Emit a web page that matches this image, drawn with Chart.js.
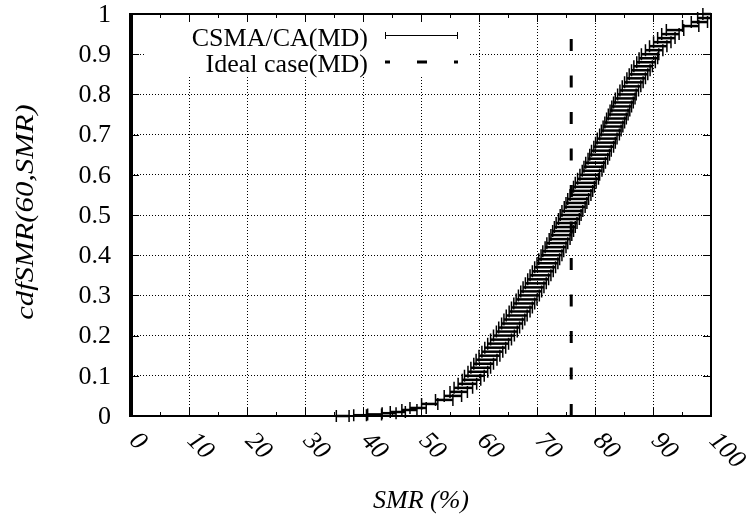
<!DOCTYPE html>
<html>
<head>
<meta charset="utf-8">
<script src="https://cdn.jsdelivr.net/npm/chart.js@4.4.1/dist/chart.umd.min.js"></script>
<style>
  html, body { margin: 0; padding: 0; background: #fff; }
  #wrap { width: 748px; height: 517px; }
</style>
</head>
<body>
<div id="wrap"><canvas id="chart"></canvas></div>
<script>
// series: CSMA/CA(MD), cdf level vs SMR (%), with horizontal error half-widths
const cdfLevels = [
  0.000, 0.002, 0.004, 0.007, 0.010, 0.015, 0.020, 0.030, 0.040, 0.050,
  0.06, 0.07, 0.08, 0.09,
  0.10, 0.11, 0.12, 0.13, 0.14, 0.15, 0.16, 0.17, 0.18, 0.19,
  0.20, 0.21, 0.22, 0.23, 0.24, 0.25, 0.26, 0.27, 0.28, 0.29,
  0.30, 0.31, 0.32, 0.33, 0.34, 0.35, 0.36, 0.37, 0.38, 0.39,
  0.40, 0.41, 0.42, 0.43, 0.44, 0.45, 0.46, 0.47, 0.48, 0.49,
  0.50, 0.51, 0.52, 0.53, 0.54, 0.55, 0.56, 0.57, 0.58, 0.59,
  0.60, 0.61, 0.62, 0.63, 0.64, 0.65, 0.66, 0.67, 0.68, 0.69,
  0.70, 0.71, 0.72, 0.73, 0.74, 0.75, 0.76, 0.77, 0.78, 0.79,
  0.80, 0.81, 0.82, 0.83, 0.84, 0.85, 0.86, 0.87, 0.88, 0.89,
  0.90, 0.91, 0.92, 0.93, 0.94, 0.95, 0.96, 0.97, 0.98, 0.99,
  1.00
];
const smrValues = [
  36.5, 39.5, 42.0, 44.5, 46.0, 48.0, 49.5, 51.5, 54.0, 55.5,
  56.5, 57.3, 58.0, 58.7,
  59.2, 59.8, 60.3, 60.8, 61.3, 61.8, 62.3, 62.8, 63.3, 63.8,
  64.3, 64.8, 65.2, 65.7, 66.1, 66.5, 67.0, 67.4, 67.8, 68.2,
  68.6, 69.0, 69.4, 69.8, 70.2, 70.6, 71.0, 71.4, 71.8, 72.1,
  72.5, 72.8, 73.2, 73.5, 73.9, 74.2, 74.5, 74.8, 75.1, 75.5,
  75.8, 76.1, 76.5, 76.8, 77.1, 77.5, 77.8, 78.1, 78.4, 78.8,
  79.1, 79.5, 79.8, 80.1, 80.5, 80.8, 81.1, 81.5, 81.8, 82.1,
  82.5, 82.8, 83.1, 83.4, 83.7, 84.0, 84.3, 84.6, 84.9, 85.2,
  85.5, 85.9, 86.3, 86.7, 87.1, 87.5, 87.9, 88.3, 88.8, 89.2,
  89.5, 90.2, 90.9, 91.6, 92.3, 93.0, 93.8, 96.5, 98.0, 99.0,
  99.8
];
const smrErr = [
  1.1, 1.1, 1.2, 1.2, 1.3, 1.3, 1.4, 1.4, 1.5, 1.5,
  1.5, 1.6, 1.6, 1.6,
  1.7, 1.7, 1.7, 1.7, 1.8, 1.8, 1.8, 1.8, 1.8, 1.8,
  1.8, 1.8, 1.8, 1.8, 1.8, 1.8, 1.8, 1.8, 1.8, 1.8,
  1.8, 1.8, 1.8, 1.8, 1.8, 1.8, 1.8, 1.8, 1.8, 1.8,
  1.8, 1.8, 1.8, 1.8, 1.8, 1.8, 1.8, 1.8, 1.8, 1.8,
  1.8, 1.8, 1.8, 1.8, 1.8, 1.8, 1.8, 1.8, 1.8, 1.8,
  1.7, 1.7, 1.7, 1.7, 1.7, 1.7, 1.7, 1.7, 1.7, 1.7,
  1.7, 1.7, 1.7, 1.7, 1.7, 1.7, 1.7, 1.7, 1.7, 1.7,
  1.6, 1.6, 1.6, 1.6, 1.6, 1.6, 1.6, 1.6, 1.6, 1.6,
  1.5, 1.5, 1.5, 1.5, 1.5, 1.5, 1.5, 1.4, 1.4, 1.3,
  1.2
];

// series: Ideal case(MD), vertical line at this SMR
const idealSmr = 75.9;
const idealCdf = [0, 1];

const seriesNames = ["CSMA/CA(MD)", "Ideal case(MD)"];
const xTickValues = [0, 10, 20, 30, 40, 50, 60, 70, 80, 90, 100];
const xMinorTicks = [5, 15, 25, 35, 45, 55, 65, 75, 85, 95];
const yTickValues = [0, 0.1, 0.2, 0.3, 0.4, 0.5, 0.6, 0.7, 0.8, 0.9, 1];
const yTickLabels = ["0", "0.1", "0.2", "0.3", "0.4", "0.5", "0.6", "0.7", "0.8", "0.9", "1"];
const xTitle = "SMR (%)";
const yTitle = "cdfSMR(60,SMR)";

const SERIF = "'Liberation Serif', 'DejaVu Serif', serif";
const FS = 26;

// error bars, frame, tick labels and the legend (gnuplot look)
const gnuplotBits = {
  id: "gnuplotBits",
  afterDatasetsDraw (chart) {
    const { ctx, chartArea: a, scales: { x, y } } = chart;
    ctx.save();
    ctx.setLineDash([]);
    ctx.beginPath();
    ctx.rect(a.left, a.top - 6, a.right - a.left, a.bottom - a.top + 12);
    ctx.clip();
    ctx.strokeStyle = "#000";
    smrValues.forEach((v, i) => {
      const py = y.getPixelForValue(cdfLevels[i]);
      const x0 = x.getPixelForValue(v - smrErr[i]);
      const x1 = x.getPixelForValue(v + smrErr[i]);
      ctx.lineWidth = 2.5;
      ctx.beginPath();
      ctx.moveTo(x0, py); ctx.lineTo(x1, py);
      ctx.stroke();
      ctx.lineWidth = 1.5;
      ctx.beginPath();
      ctx.moveTo(x0, py - 6); ctx.lineTo(x0, py + 6);
      ctx.moveTo(x1, py - 6); ctx.lineTo(x1, py + 6);
      ctx.stroke();
    });
    ctx.restore();
  },
  afterDraw (chart) {
    const { ctx, chartArea: a, scales: { x, y } } = chart;
    ctx.save();
    ctx.setLineDash([]);
    ctx.strokeStyle = "#000";

    // inward ticks
    ctx.lineWidth = 1;
    ctx.beginPath();
    xTickValues.forEach((v) => {
      const px = Math.round(x.getPixelForValue(v)) + 0.5;
      ctx.moveTo(px, a.bottom); ctx.lineTo(px, a.bottom - 8);
      ctx.moveTo(px, a.top); ctx.lineTo(px, a.top + 8);
    });
    xMinorTicks.forEach((v) => {
      const px = Math.round(x.getPixelForValue(v)) + 0.5;
      ctx.moveTo(px, a.bottom); ctx.lineTo(px, a.bottom - 4);
      ctx.moveTo(px, a.top); ctx.lineTo(px, a.top + 4);
    });
    yTickValues.forEach((v) => {
      const py = Math.round(y.getPixelForValue(v)) + 0.5;
      ctx.moveTo(a.left, py); ctx.lineTo(a.left + 8, py);
      ctx.moveTo(a.right, py); ctx.lineTo(a.right - 8, py);
    });
    ctx.stroke();

    // frame
    ctx.lineWidth = 2;
    ctx.strokeRect(a.left, a.top, a.right - a.left, a.bottom - a.top);
    ctx.lineWidth = 4;
    ctx.beginPath();
    ctx.moveTo(a.left, a.top - 1); ctx.lineTo(a.left, a.bottom + 1);
    ctx.stroke();

    ctx.fillStyle = "#000";

    // y tick labels
    ctx.font = FS + "px " + SERIF;
    ctx.textAlign = "right";
    ctx.textBaseline = "middle";
    yTickValues.forEach((v, i) => {
      ctx.fillText(yTickLabels[i], 111, y.getPixelForValue(v) + 1);
    });

    // y title, stretched like the original
    ctx.save();
    ctx.font = "italic " + FS + "px " + SERIF;
    ctx.textAlign = "center";
    ctx.textBaseline = "middle";
    ctx.translate(26, 212);
    ctx.rotate(-Math.PI / 2);
    ctx.scale(1.18, 1);
    ctx.fillText(yTitle, 0, 0);
    ctx.restore();

    // x tick labels, rotated down to the right
    ctx.font = "italic " + FS + "px " + SERIF;
    ctx.textAlign = "left";
    ctx.textBaseline = "middle";
    xTickValues.forEach((v) => {
      const px = x.getPixelForValue(v);
      ctx.save();
      ctx.translate(px + 2, a.bottom + 21);
      ctx.rotate(Math.PI / 4);
      ctx.fillText(String(v), 0, 0);
      ctx.restore();
    });

    // x title
    ctx.textAlign = "center";
    ctx.fillText(xTitle, (a.left + a.right) / 2, 501);

    // legend, on an opaque box that hides the grid
    ctx.fillStyle = "#fff";
    ctx.fillRect(146, 23, 324, 54);
    ctx.fillStyle = "#000";
    ctx.font = FS + "px " + SERIF;
    ctx.textAlign = "right";
    ctx.textBaseline = "alphabetic";
    const rows = [36, 62];
    ctx.fillText(seriesNames[0], 368, rows[0] + 10);
    ctx.fillText(seriesNames[1], 368, rows[1] + 10);
    ctx.lineWidth = 1;
    ctx.beginPath();
    ctx.moveTo(385, rows[0] - 0.5); ctx.lineTo(458, rows[0] - 0.5);
    ctx.moveTo(385.5, rows[0] - 4); ctx.lineTo(385.5, rows[0] + 3);
    ctx.moveTo(457.5, rows[0] - 4); ctx.lineTo(457.5, rows[0] + 3);
    ctx.stroke();
    ctx.lineWidth = 3;
    ctx.setLineDash([10, 27]);
    ctx.lineDashOffset = 5;
    ctx.beginPath();
    ctx.moveTo(385, rows[1]); ctx.lineTo(458, rows[1]);
    ctx.stroke();
    ctx.restore();
  }
};

new Chart(document.getElementById("chart"), {
  type: "scatter",
  data: {
    datasets: [
      {
        label: seriesNames[0],
        data: smrValues.map((v, i) => ({ x: v, y: cdfLevels[i] })),
        pointRadius: 0,
        showLine: false
      },
      {
        label: seriesNames[1],
        data: idealCdf.map((c) => ({ x: idealSmr, y: c })),
        showLine: true,
        pointRadius: 0,
        borderColor: "#000",
        borderWidth: 3,
        borderDash: [12, 24.5]
      }
    ]
  },
  options: {
    responsive: true,
    maintainAspectRatio: false,
    animation: false,
    layout: { padding: { top: 14, right: 37, left: 0, bottom: 0 } },
    plugins: {
      legend: { display: false },
      tooltip: { enabled: false }
    },
    scales: {
      x: {
        type: "linear",
        min: 0,
        max: 100,
        afterFit: (s) => { s.height = 101; },
        ticks: { display: false, stepSize: 10 },
        grid: { color: "#000", lineWidth: 1, drawTicks: false },
        border: { display: false, dash: [1, 2] }
      },
      y: {
        type: "linear",
        min: 0,
        max: 1,
        afterFit: (s) => { s.width = 131; },
        ticks: { display: false, stepSize: 0.1 },
        grid: { color: "#000", lineWidth: 1, drawTicks: false },
        border: { display: false, dash: [1, 2] }
      }
    }
  },
  plugins: [gnuplotBits]
});
</script>
</body>
</html>
